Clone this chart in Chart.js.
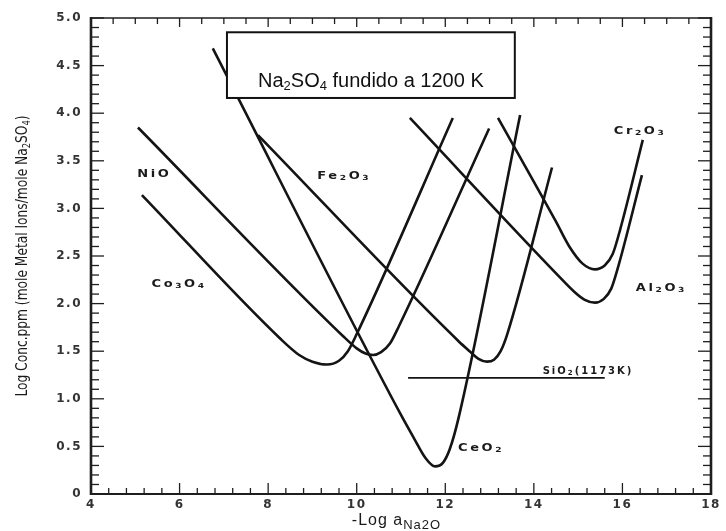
<!DOCTYPE html>
<html>
<head>
<meta charset="utf-8">
<script src="https://cdn.jsdelivr.net/npm/chart.js@4.4.1/dist/chart.umd.min.js"></script>
<style>
html,body{margin:0;padding:0;background:#fff;}
canvas{display:block;}
</style>
</head>
<body>
<canvas id="c" width="726" height="531"></canvas>
<script>
// ---- tick labels ----
const xTickValues = [4, 6, 8, 10, 12, 14, 16, 18];
const yTickLabels = ['0', '0.5', '1.0', '1.5', '2.0', '2.5', '3.0', '3.5', '4.0', '4.5', '5.0'];

// ---- series (x = -log a_Na2O, y = log conc.) ----
const co3o4X = [5.15, 8.3, 8.7, 9.0, 9.33, 9.6, 9.8, 10.0, 12.17];
const co3o4Y = [3.14, 1.62, 1.46, 1.39, 1.36, 1.40, 1.50, 1.68, 3.95];

const nioX = [5.06, 9.7, 10.0, 10.2, 10.37, 10.55, 10.75, 10.95, 12.99];
const nioY = [3.85, 1.655, 1.53, 1.475, 1.46, 1.49, 1.58, 1.76, 3.84];

const fe2o3X = [7.77, 12.3, 12.55, 12.75, 12.94, 13.1, 13.25, 13.4, 14.41];
const fe2o3Y = [3.77, 1.605, 1.50, 1.42, 1.39, 1.41, 1.50, 1.68, 3.43];

const ceo2X = [6.75, 11.0, 11.3, 11.55, 11.77, 11.95, 12.1, 12.3, 13.69];
const ceo2Y = [4.68, 0.83, 0.58, 0.38, 0.29, 0.33, 0.47, 0.80, 3.98];

const al2o3X = [11.2, 14.6, 14.9, 15.15, 15.38, 15.58, 15.75, 15.9, 16.44];
const al2o3Y = [3.95, 2.27, 2.13, 2.04, 2.01, 2.05, 2.16, 2.38, 3.35];

const cr2o3X = [13.19, 14.5, 14.8, 15.1, 15.38, 15.6, 15.78, 15.95, 16.46];
const cr2o3Y = [3.95, 2.86, 2.60, 2.42, 2.36, 2.40, 2.52, 2.78, 3.72];

const sio2X = [11.16, 15.6];
const sio2Y = [1.22, 1.22];

// ---- curve labels (text centre, data coordinates) ----
const labelText = ['NiO', 'Co_3O_4', 'Fe_2O_3', 'Cr_2O_3', 'Al_2O_3', 'CeO_2', 'SiO_2(1173K)'];
const labelX = [5.40, 5.96, 9.69, 16.37, 16.85, 12.78, 15.2];
const labelY = [3.37, 2.22, 3.35, 3.82, 2.17, 0.49, 1.30];
const labelStretch = [1.3, 1.3, 1.3, 1.3, 1.3, 1.3, 1.0];

// ---- boxed note ----
const noteText = 'Na_2SO_4 fundido a 1200 K';
const noteBoxX = [7.07, 13.57];
const noteBoxY = [4.16, 4.85];
const noteTextX = 10.32;
const noteTextY = 4.275;

const xTitle = '-Log a_{Na2O}';
const yTitle = 'Log Conc.ppm (mole Metal Ions/mole Na_2SO_4)';

// ---- helpers ----
function parseRich(str){
  const parts = []; let i = 0;
  while (i < str.length){
    if (str[i] === '_'){
      let t;
      if (str[i+1] === '{'){ const j = str.indexOf('}', i); t = str.slice(i+2, j); i = j+1; }
      else { t = str[i+1]; i += 2; }
      parts.push({t, sub:true});
    } else {
      let j = i; while (j < str.length && str[j] !== '_') j++;
      parts.push({t:str.slice(i, j), sub:false}); i = j;
    }
  }
  return parts;
}
function drawRich(ctx, str, x, y, o){
  const parts = parseRich(str);
  const st = o.stretch || 1;
  ctx.save();
  ctx.translate(x, y);
  ctx.scale(st, 1);
  ctx.letterSpacing = (o.spacing || 0) + 'px';
  ctx.fillStyle = o.color || '#111';
  ctx.textBaseline = 'alphabetic';
  ctx.textAlign = 'left';
  const fontFor = p => `${o.weight || 'normal'} ${p.sub ? o.subSize : o.size}px ${o.family}`;
  let total = 0;
  const widths = parts.map(p => { ctx.font = fontFor(p); const w = ctx.measureText(p.t).width; total += w; return w; });
  total -= (o.spacing || 0);
  let cx = o.align === 'center' ? -total/2 : (o.align === 'right' ? -total : 0);
  parts.forEach((p, k) => { ctx.font = fontFor(p); ctx.fillText(p.t, cx, (p.sub ? o.subDy : 0)); cx += widths[k]; });
  ctx.restore();
}
function seg(ctx, x1, y1, x2, y2){ ctx.beginPath(); ctx.moveTo(x1, y1); ctx.lineTo(x2, y2); ctx.stroke(); }

const mk = (xs, ys, w) => ({
  data: xs.map((x, i) => ({x, y: ys[i]})),
  borderColor: '#141414', borderWidth: w, pointRadius: 0,
  cubicInterpolationMode: 'monotone', fill: false
});

const spacingPlugin = {
  id: 'spacing',
  beforeDraw(chart){ chart.ctx.letterSpacing = '1.5px'; },
  beforeDatasetsDraw(chart){ chart.ctx.letterSpacing = '0px'; }
};

const decorPlugin = {
  id: 'decor',
  afterDatasetsDraw(chart){
    const ctx = chart.ctx;
    const {left, right, top, bottom} = chart.chartArea;
    const xs = chart.scales.x, ys = chart.scales.y;
    ctx.save();
    ctx.letterSpacing = '0px';
    ctx.strokeStyle = '#1e1e1e';
    ctx.lineCap = 'butt';
    ctx.lineWidth = 1.3;
    for (let i = 0; i <= 35; i++){
      const px = xs.getPixelForValue(4 + i*0.4);
      const len = (i % 5 === 0) ? 11 : 6;
      seg(ctx, px, bottom, px, bottom - len);
    }
    for (let i = 0; i <= 28; i++){
      const px = xs.getPixelForValue(4 + i*0.5);
      const len = (i % 4 === 0) ? 9 : 6;
      seg(ctx, px, top, px, top + len);
    }
    for (let i = 0; i <= 50; i++){
      const py = ys.getPixelForValue(i*0.1);
      const len = (i % 5 === 0) ? 13 : 8;
      seg(ctx, left, py, left + len, py);
      seg(ctx, right, py, right - len, py);
    }
    ctx.lineWidth = 2.6; seg(ctx, left, top - 1, left, bottom + 1);
    ctx.lineWidth = 2.6; seg(ctx, right, top - 1, right, bottom + 1);
    ctx.lineWidth = 2.0; seg(ctx, left, bottom, right, bottom);
    ctx.lineWidth = 1.6; seg(ctx, left, top, right, top);
    ctx.restore();

    labelText.forEach((t, i) => {
      drawRich(ctx, t, xs.getPixelForValue(labelX[i]), ys.getPixelForValue(labelY[i]) + 4,
        {size:10, subSize:7, subDy:1, family:'"DejaVu Sans"', weight:'bold', spacing:2,
         stretch: labelStretch[i], align:'center', color:'#1a1a1a'});
    });

    const bx1 = xs.getPixelForValue(noteBoxX[0]), bx2 = xs.getPixelForValue(noteBoxX[1]);
    const by1 = ys.getPixelForValue(noteBoxY[1]), by2 = ys.getPixelForValue(noteBoxY[0]);
    ctx.save();
    ctx.fillStyle = '#fff';
    ctx.fillRect(bx1, by1, bx2 - bx1, by2 - by1);
    ctx.strokeStyle = '#111'; ctx.lineWidth = 2;
    ctx.strokeRect(bx1, by1, bx2 - bx1, by2 - by1);
    ctx.restore();
    drawRich(ctx, noteText, xs.getPixelForValue(noteTextX), ys.getPixelForValue(noteTextY),
      {size:20, subSize:13, subDy:3, family:'"Liberation Sans", Arial, sans-serif', spacing:0, align:'center', color:'#111'});
  },
  afterDraw(chart){
    const ctx = chart.ctx;
    const {left, right} = chart.chartArea;
    drawRich(ctx, xTitle, (left + right)/2 - 5, 525,
      {size:16, subSize:13, subDy:4, family:'"Liberation Sans", Arial, sans-serif', spacing:1, align:'center', color:'#1a1a1a'});
    ctx.save();
    ctx.translate(21, 256);
    ctx.rotate(-Math.PI/2);
    drawRich(ctx, yTitle, 0, 6,
      {size:16, subSize:11, subDy:3, stretch:0.85, family:'"Liberation Sans Narrow", "DejaVu Sans Condensed", "Liberation Sans", sans-serif', spacing:0, align:'center', color:'#1a1a1a'});
    ctx.restore();
    ctx.letterSpacing = '0px';
  }
};

const tickFont = {family:'"DejaVu Sans", sans-serif', size:12, weight:'bold'};

new Chart(document.getElementById('c'), {
  type: 'line',
  data: {
    datasets: [
      mk(co3o4X, co3o4Y, 2.6),
      mk(nioX, nioY, 2.6),
      mk(fe2o3X, fe2o3Y, 2.6),
      mk(ceo2X, ceo2Y, 2.6),
      mk(al2o3X, al2o3Y, 2.6),
      mk(cr2o3X, cr2o3Y, 2.6),
      mk(sio2X, sio2Y, 1.6)
    ]
  },
  options: {
    responsive: false,
    animation: false,
    devicePixelRatio: 1,
    layout: {padding: {left: 0, right: 15, top: 18, bottom: 0}},
    plugins: {legend: {display: false}, tooltip: {enabled: false}},
    scales: {
      x: {
        type: 'linear', min: 4, max: 18,
        afterFit(s){ s.height = 37; },
        afterBuildTicks(s){ s.ticks = xTickValues.map(v => ({value: v})); },
        ticks: {font: tickFont, color: '#333', padding: 4, maxRotation: 0, autoSkip: false},
        grid: {display: false, tickLength: 0}, border: {display: false}
      },
      y: {
        type: 'linear', min: 0, max: 5,
        afterFit(s){ s.width = 91; },
        ticks: {stepSize: 0.5, font: tickFont, color: '#333', padding: 9,
          callback: (v, i) => yTickLabels[i]},
        grid: {display: false, tickLength: 0}, border: {display: false}
      }
    }
  },
  plugins: [spacingPlugin, decorPlugin]
});
</script>
</body>
</html>
